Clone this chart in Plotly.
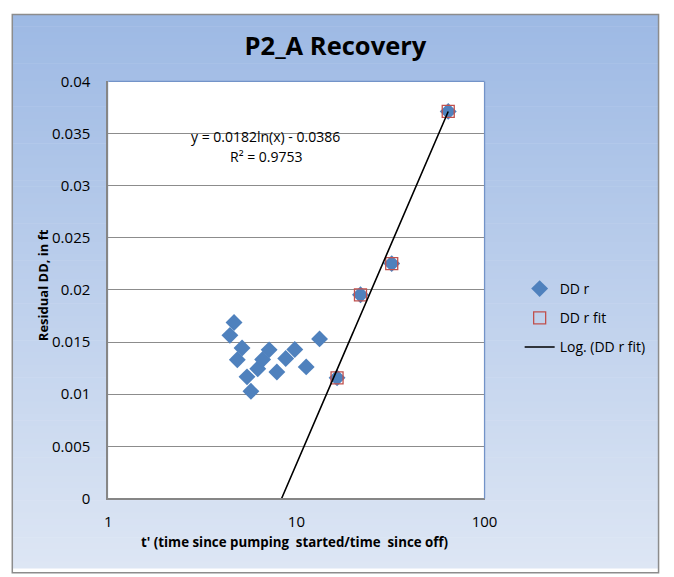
import numpy as np
import plotly.graph_objects as go

# Recovery test data: t' ratio vs residual drawdown (ft)
t_ratio = [4.43, 4.66, 4.85, 5.14, 5.46, 5.73, 6.23, 6.61, 7.16, 7.87,
           8.77, 9.80, 11.27, 13.27, 16.44, 21.9, 32.1, 64.1]
dd_r = [0.01565, 0.01688, 0.01331, 0.01444, 0.01167, 0.01028, 0.01244,
        0.01333, 0.01426, 0.01213, 0.01343, 0.01429, 0.01262, 0.01531,
        0.01157, 0.01954, 0.02253, 0.03713]

# Late-time points used for the straight-line fit
fit_t = [16.44, 21.9, 32.1, 64.1]
fit_dd = [0.01157, 0.01954, 0.02253, 0.03713]

# Logarithmic trendline coefficients: y = a ln(x) + b
fit_a = 0.0182
fit_b = -0.0386
fit_r2 = 0.9753

y_tickvals = [0, 0.005, 0.01, 0.015, 0.02, 0.025, 0.03, 0.035, 0.04]
y_ticktext = ["0", "0.005", "0.01", "0.015", "0.02", "0.025", "0.03", "0.035", "0.04"]
x_tickvals = [1, 10, 100]
x_ticktext = ["1", "10", "100"]

W, H = 674, 577
FONT = "Open Sans"
BLUE = "#4F81BD"
RED = "#C0504D"


def px(x):
    return x / W


def py(y):
    return 1 - y / H


# plot box in pixels
L, R, T, B = 107, 493, 73, 505

# trendline from the x where the fit reaches 0 up to the last fitted point
x_start = np.exp(-fit_b / fit_a)
trend_x = np.geomspace(x_start, max(fit_t), 200)
trend_y = fit_a * np.log(trend_x) + fit_b

fig = go.Figure()
fig.add_trace(go.Scatter(
    x=t_ratio, y=dd_r, mode="markers", name="DD r", legendgroup="a",
    marker=dict(symbol="diamond", size=13, color=BLUE, line=dict(width=0)),
))
fig.add_trace(go.Scatter(
    x=fit_t, y=fit_dd, mode="markers", name="DD r fit", legendgroup="b",
    marker=dict(symbol="square-open", size=12, color=RED, line=dict(width=1.3, color=RED)),
))
fig.add_trace(go.Scatter(
    x=trend_x, y=trend_y, mode="lines", name="Log. (DD r fit)", legendgroup="c",
    line=dict(color="black", width=1.6),
))

# background: vertical gradient inside the chart frame
shapes = []
n = 90
top_c = np.array([157, 185, 228])
bot_c = np.array([221, 230, 244])
y0, y1 = 3, H
for i in range(n):
    ya = y0 + (y1 - y0) * i / n
    yb = y0 + (y1 - y0) * (i + 1) / n + 0.6
    c = top_c + (bot_c - top_c) * (i + 0.5) / n
    shapes.append(dict(type="rect", xref="paper", yref="paper", layer="below",
                       x0=px(9), x1=px(671), y0=py(ya), y1=py(yb),
                       line=dict(width=0), fillcolor="rgb(%d,%d,%d)" % tuple(c.round())))
# white plot area
shapes.append(dict(type="rect", xref="paper", yref="paper", layer="below",
                   x0=px(L), x1=px(R), y0=py(B), y1=py(T),
                   line=dict(width=0), fillcolor="white"))
# chart frame
shapes.append(dict(type="rect", xref="paper", yref="paper", layer="above",
                   x0=px(8.5), x1=px(671.5), y0=py(3.5), y1=py(H + 5),
                   line=dict(width=1.5, color="#8C8C8C"), fillcolor="rgba(0,0,0,0)"))
# top and right edge of the plot area
shapes.append(dict(type="line", xref="paper", yref="paper", layer="above",
                   x0=px(L), x1=px(R), y0=py(T), y1=py(T),
                   line=dict(width=1.3, color="#7393C8")))
shapes.append(dict(type="line", xref="paper", yref="paper", layer="above",
                   x0=px(R), x1=px(R), y0=py(T), y1=py(B),
                   line=dict(width=1.3, color="#7393C8")))

annotations = [
    dict(text="<b>Residual DD, in ft</b>", x=px(40), y=py(284), xref="paper", yref="paper",
         xanchor="center", yanchor="middle",
         textangle=-90, showarrow=False, font=dict(size=13, color="black", family=FONT)),
    dict(text="<b>t' (time since pumping  started/time  since off)</b>", x=px(298), y=py(550),
         xref="paper", yref="paper", xanchor="center", yanchor="middle", showarrow=False,
         font=dict(size=13.3, color="black", family=FONT)),
    dict(text="y = %.4fln(x) - %.4f" % (fit_a, -fit_b), x=px(268), y=py(130),
         xref="paper", yref="paper", xanchor="center", yanchor="middle", showarrow=False,
         font=dict(size=14, color="black", family=FONT)),
    dict(text="R² = %.4f" % fit_r2, x=px(269), y=py(151),
         xref="paper", yref="paper", xanchor="center", yanchor="middle", showarrow=False,
         font=dict(size=14, color="black", family=FONT)),
]

fig.update_layout(
    width=W, height=H,
    margin=dict(l=0, r=0, t=0, b=0),
    paper_bgcolor="white",
    plot_bgcolor="white",
    font=dict(family=FONT, color="black", size=13),
    title=dict(text="<b>P2_A Recovery</b>", x=px(340), y=py(36), xanchor="center",
               yanchor="middle", xref="paper", yref="paper",
               font=dict(size=25.5, family=FONT, color="black")),
    xaxis=dict(type="log", range=[0, 2], domain=[px(L), px(R)],
               tickvals=x_tickvals, ticktext=x_ticktext, showgrid=False,
               showline=True, linecolor="#868686", linewidth=2, ticks="",
               ticklabelstandoff=9, zeroline=False,
               tickfont=dict(size=15, family=FONT, color="black")),
    yaxis=dict(range=[0, 0.04], domain=[py(B), py(T)],
               tickvals=y_tickvals, ticktext=y_ticktext, showgrid=True,
               gridcolor="#8C8C8C", gridwidth=1, zeroline=False,
               showline=True, linecolor="#868686", linewidth=2, ticks="",
               ticklabelstandoff=13,
               tickfont=dict(size=15, family=FONT, color="black")),
    legend=dict(x=px(529), y=py(318), xanchor="left", yanchor="middle",
                bgcolor="rgba(0,0,0,0)", borderwidth=0, tracegroupgap=8,
                font=dict(size=14, family=FONT, color="black")),
    shapes=shapes,
    annotations=annotations,
)

fig.write_html("out.html")
